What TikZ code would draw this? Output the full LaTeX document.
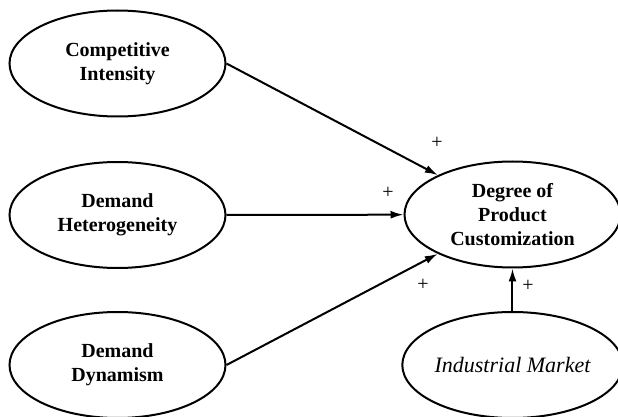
\documentclass[tikz,border=0pt]{standalone}
\usepackage{fontspec}
\setmainfont{Liberation Serif}
\usetikzlibrary{shapes.geometric,arrows.meta}

\begin{document}
\begin{tikzpicture}[x=0.5pt, y=-0.5pt]
    % Define colours
    \definecolor{borderColour}{HTML}{000000}

    % Define styles
    \tikzset{
        construct/.style={ellipse, draw=borderColour, line width=1pt,
            minimum width=108pt, minimum height=53pt, inner sep=0pt,
            align=center, font=\bfseries},
        effect/.style={draw=borderColour, line width=1pt,
            -{Latex[length=6.5pt, width=4pt]}},
        sign/.style={inner sep=0pt}
    }

    % Page size
    \useasboundingbox (0,0) rectangle (618,417);

    % Antecedents
    \node[construct] (intensity) at (117.5,63.5) {Competitive\\Intensity};
    \node[construct] (heterogeneity) at (117.5,215) {Demand\\Heterogeneity};
    \node[construct] (dynamism) at (117.5,365) {Demand\\Dynamism};

    % Outcome and control
    \node[construct] (customization) at (512.5,214.5) {Degree of\\Product\\Customization};
    \node[construct, font=\itshape\fontsize{11}{13}\selectfont] (market) at (512.5,365) {Industrial Market};

    % Paths
    \draw[effect] (intensity.east) -- (customization);
    \draw[effect] (heterogeneity.east) -- (customization);
    \draw[effect] (dynamism.east) -- (customization);
    \draw[effect] (market) -- (customization);

    % Signs
    \node[sign] (signA) at (437,143) {+};
    \node[sign] (signB) at (388,193) {+};
    \node[sign] (signC) at (423,285) {+};
    \node[sign] (signD) at (528,286) {+};

\end{tikzpicture}
\end{document}
